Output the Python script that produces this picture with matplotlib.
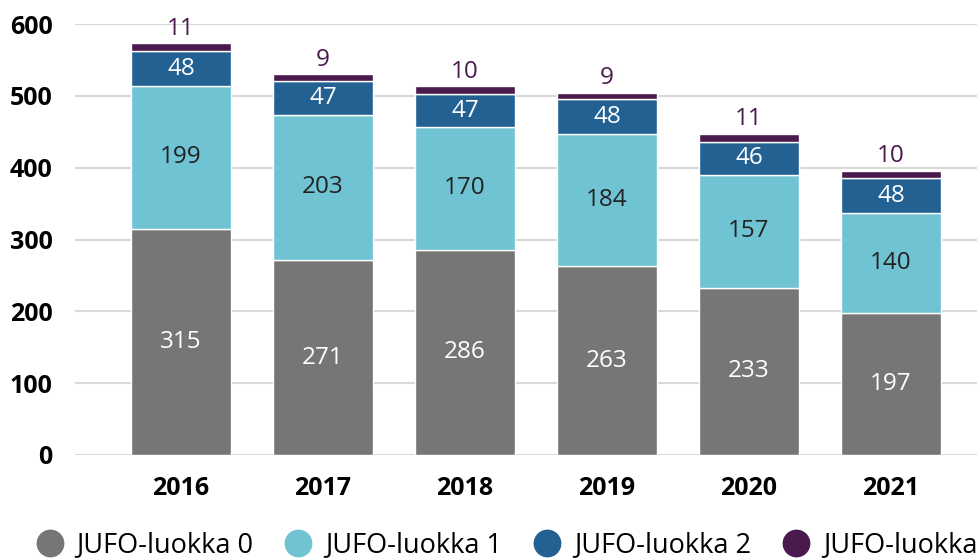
import matplotlib.pyplot as plt
from matplotlib.lines import Line2D
import numpy as np

plt.rcParams['font.family'] = ['Open Sans', 'DejaVu Sans']

years = ['2016', '2017', '2018', '2019', '2020', '2021']
luokka0 = np.array([315, 271, 286, 263, 233, 197])
luokka1 = np.array([199, 203, 170, 184, 157, 140])
luokka2 = np.array([48, 47, 47, 48, 46, 48])
luokka3 = np.array([11, 9, 10, 9, 11, 10])
names = ['JUFO-luokka 0', 'JUFO-luokka 1', 'JUFO-luokka 2', 'JUFO-luokka 3']

colors = ['#767676', '#70c3d3', '#236192', '#4a1a4e']
txt_colors = ['white', '#222222', 'white']

fig = plt.figure(figsize=(9.77, 5.58), dpi=100)
ax = fig.add_axes([75/977, 1-455/558, 1-75/977, (455-24)/558])

x = np.arange(len(years))
series = [luokka0, luokka1, luokka2, luokka3]
bottom = np.zeros(len(years))
for i, vals in enumerate(series):
    bars = ax.bar(x, vals, 0.7, bottom=bottom, color=colors[i],
                  edgecolor='white', linewidth=1, zorder=3)
    if i < 3:
        ax.bar_label(bars, labels=[str(v) for v in vals], label_type='center',
                     color=txt_colors[i], fontsize=17.5)
    else:
        ax.bar_label(bars, labels=[str(v) for v in vals], padding=2,
                     color='#4a1a4e', fontsize=17.5, clip_on=False)
    bottom = bottom + vals

ax.set_ylim(0, 600)
ax.set_xlim(-0.746, 5.606)
ax.set_yticks(range(0, 601, 100))
ax.set_xticks(x)
ax.set_xticklabels(years)
ax.grid(axis='y', color='#d9d9d9', linewidth=1.5, zorder=0)
ax.tick_params(length=0, labelsize=18)
ax.tick_params(axis='y', pad=16)
ax.tick_params(axis='x', pad=15)
for lab in ax.get_xticklabels() + ax.get_yticklabels():
    lab.set_fontweight('bold')
for s in ax.spines.values():
    s.set_visible(False)

# legend runs off the right edge like in the original
handles = [Line2D([], [], marker='o', linestyle='none', markersize=19,
                  markerfacecolor=c, markeredgecolor=c) for c in colors]
fig.legend(handles, names, loc='center left', bbox_to_anchor=(36/977, 1-545/558),
           ncol=4, frameon=False, fontsize=19.5, handletextpad=0.5,
           columnspacing=1.15, borderaxespad=0, borderpad=0, handlelength=1.0)

fig.savefig('out.png', dpi=100)
